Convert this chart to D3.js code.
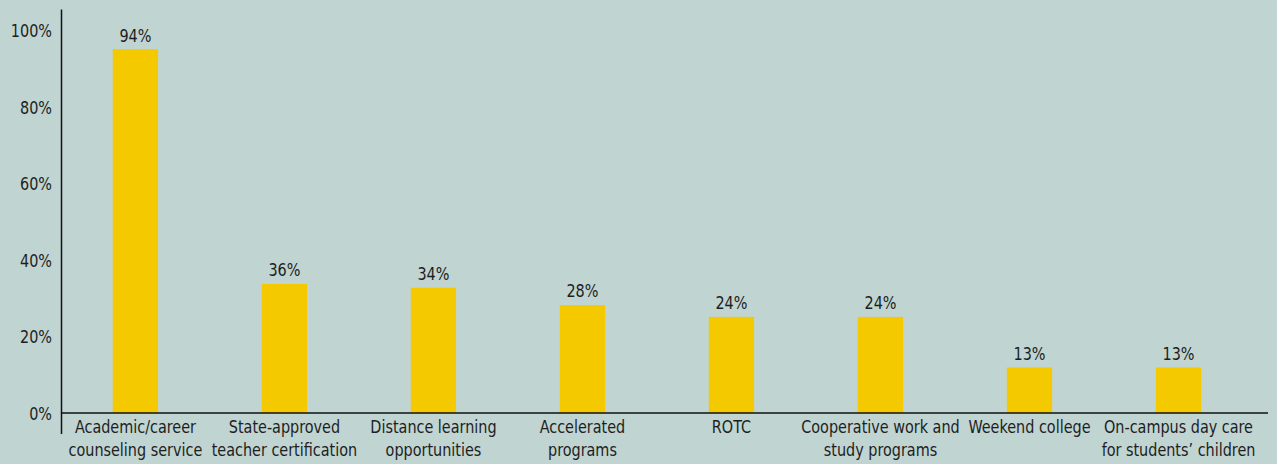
<!DOCTYPE html>
<html>
<head>
<meta charset="utf-8">
<script src="https://cdn.jsdelivr.net/npm/d3@7"></script>
<style>
  html, body { margin: 0; padding: 0; background: #c0d4d2; }
  svg { display: block; }
  text { font-family: "DejaVu Sans Condensed", "DejaVu Sans", sans-serif; fill: #1e1e1e; }
</style>
</head>
<body>
<svg id="chart"></svg>
<script>
// ── 数据 ──────────────────────────────────────────────────────────────
const categories = [
    ['Academic/career', 'counseling service'],
    ['State-approved', 'teacher certification'],
    ['Distance learning', 'opportunities'],
    ['Accelerated', 'programs'],
    ['ROTC'],
    ['Cooperative work and', 'study programs'],
    ['Weekend college'],
    ['On-campus day care', 'for students\u2019 children']
];
// printed labels
const shares = [94, 36, 34, 28, 24, 24, 13, 13];
// bar heights as drawn in the picture (%)
const barHeights = [95, 33.7, 32.7, 28.2, 25.1, 25.1, 11.9, 11.9];
const yTicks = [0, 20, 40, 60, 80, 100];

// ── 尺寸 ──────────────────────────────────────────────────────────────
const width = 1277, height = 464;
const axisX = 61.5, baseY = 413, topY = 30;
const squeeze = 0.89;   // 模拟窄体字

const svg = d3.select('#chart').attr('width', width).attr('height', height);

svg.append('rect').attr('width', width).attr('height', height).attr('fill', '#c0d4d2');

const x = d3.scaleBand()
    .domain(d3.range(categories.length))
    .range([60.3, 1253.6])
    .paddingInner(0.696)
    .paddingOuter(0.352);

const y = d3.scaleLinear().domain([0, 100]).range([baseY, topY]);
const cx = i => x(i) + x.bandwidth() / 2;

// ── 柱 ────────────────────────────────────────────────────────────────
svg.append('g')
    .selectAll('rect')
    .data(barHeights)
    .enter()
    .append('rect')
    .attr('x', (d, i) => x(i))
    .attr('y', d => y(d))
    .attr('width', x.bandwidth())
    .attr('height', d => baseY - y(d))
    .attr('fill', '#f5c900');

// value labels
svg.append('g')
    .selectAll('text')
    .data(shares)
    .enter()
    .append('text')
    .attr('transform', (d, i) => `translate(${cx(i)},${y(barHeights[i]) - 7.5}) scale(${squeeze},1)`)
    .attr('text-anchor', 'middle')
    .style('font-size', '18px')
    .text(d => d + '%');

// ── Y 轴 ──────────────────────────────────────────────────────────────
const yAxis = svg.append('g')
    .attr('transform', `translate(${axisX},0)`)
    .call(d3.axisLeft(y).tickValues(yTicks).tickSize(0).tickFormat(d => d + '%'));
yAxis.select('.domain').remove();
yAxis.selectAll('text')
    .attr('x', 0)
    .attr('dy', '0.36em')
    .attr('transform', `translate(-9.5,0) scale(${squeeze},1)`)
    .style('font-size', '18px')
    .style('fill', '#1e1e1e');

svg.append('line')
    .attr('x1', axisX).attr('x2', axisX)
    .attr('y1', 9.5).attr('y2', 434)
    .attr('stroke', '#111').attr('stroke-width', 1.5);

// ── X 轴 ──────────────────────────────────────────────────────────────
svg.append('line')
    .attr('x1', axisX).attr('x2', 1268)
    .attr('y1', baseY).attr('y2', baseY)
    .attr('stroke', '#111').attr('stroke-width', 1.5);

const xLabels = svg.append('g')
    .selectAll('text')
    .data(categories)
    .enter()
    .append('text')
    .attr('transform', (d, i) => `translate(${cx(i)},433) scale(${squeeze},1)`)
    .attr('text-anchor', 'middle')
    .style('font-size', '18px');

xLabels.selectAll('tspan')
    .data(d => d)
    .enter()
    .append('tspan')
    .attr('x', 0)
    .attr('dy', (d, i) => i === 0 ? 0 : 23.5)
    .text(d => d);
</script>
</body>
</html>
